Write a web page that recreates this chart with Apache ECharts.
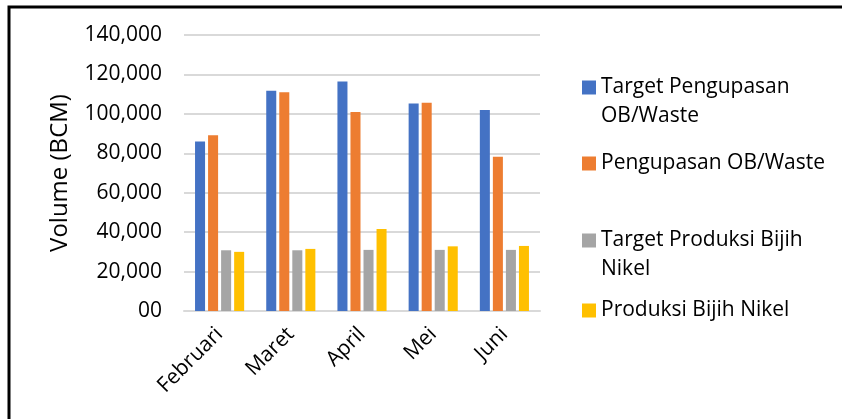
<!DOCTYPE html>
<html>
<head>
<meta charset="utf-8">
<script src="https://cdn.jsdelivr.net/npm/echarts@6/dist/echarts.min.js"></script>
<style>
  html, body { margin: 0; padding: 0; background: #fff; }
  #chart { width: 842px; height: 419px; }
</style>
</head>
<body>
<div id="chart"></div>
<script>
// data
const months = ['Februari', 'Maret', 'April', 'Mei', 'Juni'];
const targetOB = [86000, 111700, 116400, 105300, 101900];
const realOB = [89200, 111000, 100900, 105600, 78200];
const targetNikel = [30800, 30800, 31000, 31000, 31000];
const realNikel = [30000, 31500, 41600, 32800, 33000];
const yTickLabels = ['00', '20,000', '40,000', '60,000', '80,000', '100,000', '120,000', '140,000'];

const names = ['Target Pengupasan OB/Waste', 'Pengupasan OB/Waste', 'Target Produksi Bijih Nikel', 'Produksi Bijih Nikel'];
// blank first line keeps the icon level with the first text line
const wrapped = {
  'Target Pengupasan OB/Waste': '\nTarget Pengupasan\nOB/Waste',
  'Pengupasan OB/Waste': 'Pengupasan OB/Waste',
  'Target Produksi Bijih Nikel': '\nTarget Produksi Bijih\nNikel',
  'Produksi Bijih Nikel': 'Produksi Bijih Nikel'
};
const colors = ['#4472C4', '#ED7D31', '#A5A5A5', '#FFC000'];
const font = 'Open Sans';

let chart = echarts.init(document.getElementById('chart'));

function legendAt(name, top) {
  return {
    data: [name],
    orient: 'vertical',
    left: 582,
    top: top,
    padding: 0,
    itemWidth: 14,
    itemHeight: 14,
    itemGap: 4,
    icon: 'rect',
    formatter: n => wrapped[n],
    textStyle: {
      fontFamily: font,
      fontSize: 21,
      color: '#000',
      lineHeight: 29
    }
  };
}

chart.setOption({
  animation: false,
  color: colors,
  graphic: [{
    type: 'rect',
    shape: {x: 9, y: 7, width: 900, height: 500},
    style: {fill: 'none', stroke: '#000', lineWidth: 3}
  }],
  legend: [
    legendAt(names[0], 44),
    legendAt(names[1], 149),
    legendAt(names[2], 197),
    legendAt(names[3], 296)
  ],
  grid: {left: 184, right: 302, top: 35, bottom: 108},
  xAxis: {
    type: 'category',
    data: months,
    axisLine: {lineStyle: {color: '#d9d9d9', width: 2}},
    axisTick: {show: false},
    axisLabel: {
      rotate: 45,
      margin: 20,
      fontFamily: font,
      fontSize: 21,
      color: '#000'
    }
  },
  yAxis: {
    type: 'value',
    min: 0,
    max: 140000,
    interval: 20000,
    name: 'Volume (BCM)',
    nameLocation: 'middle',
    nameGap: 112,
    nameTextStyle: {fontFamily: font, fontSize: 24, color: '#000'},
    axisLine: {show: false},
    axisTick: {show: false},
    splitLine: {lineStyle: {color: '#d9d9d9', width: 2}},
    axisLabel: {
      margin: 22,
      fontFamily: font,
      fontSize: 21,
      color: '#000',
      formatter: v => yTickLabels[Math.round(v / 20000)]
    }
  },
  series: [
    {name: names[0], type: 'bar', data: targetOB, barGap: '30%', barCategoryGap: '31%'},
    {name: names[1], type: 'bar', data: realOB},
    {name: names[2], type: 'bar', data: targetNikel},
    {name: names[3], type: 'bar', data: realNikel}
  ]
});
</script>
</body>
</html>
